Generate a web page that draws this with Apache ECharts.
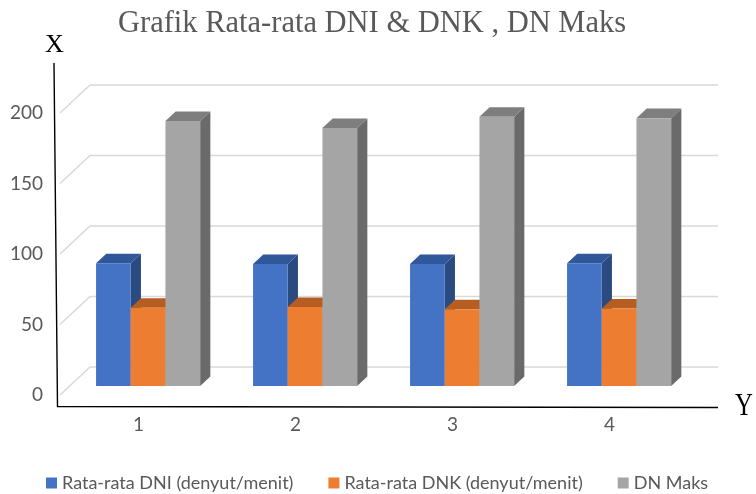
<!DOCTYPE html>
<html>
<head>
<meta charset="utf-8">
<title>Grafik Rata-rata DNI & DNK , DN Maks</title>
<script src="https://cdn.jsdelivr.net/npm/echarts@6/dist/echarts.min.js"></script>
<style>
  html, body { margin: 0; padding: 0; background: #ffffff; }
  #chart { width: 756px; height: 494px; }
</style>
</head>
<body>
<div id="chart"></div>
<script>
// Categories (measurement sessions) and the three series of heart-rate values
const categories = ['1', '2', '3', '4'];
const dniValues = [87, 86.5, 86.5, 87];        // Rata-rata DNI (denyut/menit)
const dnkValues = [55.5, 56, 54.5, 55];        // Rata-rata DNK (denyut/menit)
const dnMaksValues = [188, 183, 191, 190];     // DN Maks
const yTicks = [0, 50, 100, 150, 200];

const seriesNames = ['Rata-rata DNI (denyut/menit)', 'Rata-rata DNK (denyut/menit)', 'DN Maks'];

// Face colours for each column: front, top, side
const palettes = [
  { front: '#4472C4', top: '#30579A', side: '#2B4A80' },
  { front: '#ED7D31', top: '#B65D22', side: '#9F511D' },
  { front: '#A5A5A5', top: '#7E7E7E', side: '#6A6A6A' }
];

// Depth of the 3D box (pixels): back wall is shifted right and up
const DEPTH_X = 30;
const DEPTH_Y = 28;
// Columns occupy the middle part of the depth
const D_FRONT = 0.32;
const D_BACK = 0.66;
// Share of a category band used by the column cluster
const CLUSTER = 0.663;

function columnSeries(idx, values) {
  const pal = palettes[idx];
  return {
    type: 'custom',
    name: seriesNames[idx],
    itemStyle: { color: pal.front },
    data: values.map((v, i) => [i, v]),
    z: 3,
    renderItem: function (params, api) {
      const i = api.value(0);
      const v = api.value(1);
      const base = api.coord([i, 0]);
      const top = api.coord([i, v]);
      const band = api.size([1, 0])[0];
      const gw = band * CLUSTER;
      const bw = gw / 3;
      const x0 = base[0] - gw / 2 + idx * bw + DEPTH_X * D_FRONT;
      const yb = base[1] - DEPTH_Y * D_FRONT;
      const yt = top[1] - DEPTH_Y * D_FRONT;
      const dx = DEPTH_X * (D_BACK - D_FRONT);
      const dy = DEPTH_Y * (D_BACK - D_FRONT);
      return {
        type: 'group',
        children: [
          {
            type: 'polygon',
            shape: { points: [[x0 + bw, yt], [x0 + bw + dx, yt - dy], [x0 + bw + dx, yb - dy], [x0 + bw, yb]] },
            style: { fill: pal.side }
          },
          {
            type: 'polygon',
            shape: { points: [[x0, yt], [x0 + bw, yt], [x0 + bw + dx, yt - dy], [x0 + dx, yt - dy]] },
            style: { fill: pal.top }
          },
          {
            type: 'rect',
            shape: { x: x0, y: yt, width: bw, height: yb - yt },
            style: { fill: pal.front }
          }
        ]
      };
    }
  };
}

// Gridlines on the back wall plus the slanted lines along the side wall
const gridSeries = {
  type: 'custom',
  name: 'grid',
  silent: true,
  z: 1,
  data: yTicks.map(v => [0, v]),
  renderItem: function (params, api) {
    const cs = params.coordSys;
    const y = api.coord([0, api.value(1)])[1];
    const style = { stroke: '#D9D9D9', lineWidth: 1.6, fill: null };
    return {
      type: 'group',
      children: [
        { type: 'line', shape: { x1: cs.x, y1: y, x2: cs.x + DEPTH_X, y2: y - DEPTH_Y }, style: style },
        { type: 'line', shape: { x1: cs.x + DEPTH_X, y1: y - DEPTH_Y, x2: cs.x + cs.width + DEPTH_X, y2: y - DEPTH_Y }, style: style }
      ]
    };
  }
};

const chart = echarts.init(document.getElementById('chart'), null, { renderer: 'canvas' });

chart.setOption({
  animation: false,
  backgroundColor: '#ffffff',
  color: palettes.map(p => p.front),
  grid: { left: 60, right: 68, top: 113, bottom: 99, containLabel: false },
  xAxis: {
    type: 'category',
    data: categories,
    axisLine: { show: false },
    axisTick: { show: false },
    splitLine: { show: false },
    axisLabel: { margin: 20, color: '#595959', fontFamily: 'Lato', fontSize: 19 }
  },
  yAxis: {
    type: 'value',
    min: 0,
    max: 200,
    interval: 50,
    axisLine: { show: false },
    axisTick: { show: false },
    splitLine: { show: false },
    axisLabel: { margin: 17, color: '#595959', fontFamily: 'Lato', fontSize: 19 }
  },
  legend: {
    data: seriesNames,
    left: 41,
    top: 469,
    icon: 'rect',
    itemWidth: 11,
    itemHeight: 11,
    itemGap: 35,
    textStyle: { color: '#595959', fontFamily: 'Lato', fontSize: 18 }
  },
  graphic: [
    {
      type: 'text',
      left: 118,
      top: 8,
      scaleX: 0.953,
      style: { text: 'Grafik Rata-rata DNI & DNK , DN Maks', fill: '#595959', font: '32px "Liberation Serif"' }
    },
    {
      type: 'text',
      x: 45,
      y: 32,
      style: { text: 'X', fill: '#000000', font: '26px "Liberation Serif"' }
    },
    {
      type: 'text',
      x: 735,
      y: 391,
      scaleX: 0.8,
      style: { text: 'Y', fill: '#000000', font: '31px "Liberation Serif"' }
    },
    {
      type: 'polyline',
      shape: { points: [[54, 63], [57.5, 406.5], [718, 407.5]] },
      style: { stroke: '#000000', lineWidth: 1.4, fill: null }
    }
  ],
  series: [
    gridSeries,
    columnSeries(0, dniValues),
    columnSeries(1, dnkValues),
    columnSeries(2, dnMaksValues)
  ]
});
</script>
</body>
</html>
